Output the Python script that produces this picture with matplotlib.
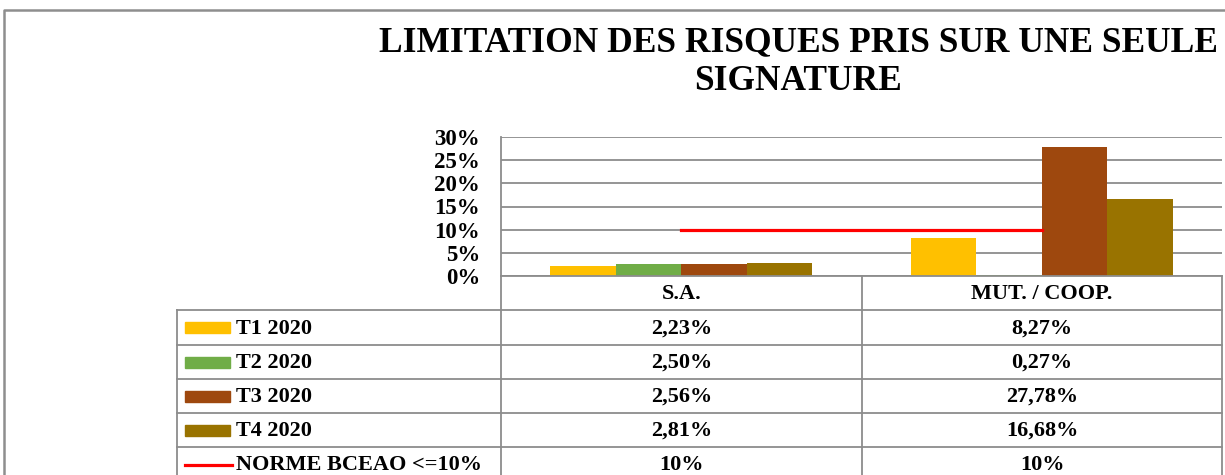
import matplotlib
matplotlib.use("Agg")
import matplotlib.pyplot as plt
import numpy as np
from matplotlib.lines import Line2D
from matplotlib.patches import Rectangle

# Données du graphique
categories = ["S.A.", "MUT. / COOP."]
series_labels = ["T1 2020", "T2 2020", "T3 2020", "T4 2020"]
t1 = [2.23, 8.27]
t2 = [2.50, 0.27]
t3 = [2.56, 27.78]
t4 = [2.81, 16.68]
norme = [10, 10]
norme_label = "NORME BCEAO <=10%"
yticks = [0, 5, 10, 15, 20, 25, 30]
title = "LIMITATION DES RISQUES PRIS SUR UNE SEULE\nSIGNATURE"

series = [t1, t2, t3, t4]
colors = ["#FFC000", "#70AD47", "#9E480E", "#997300"]
red = "#FF0000"
grid_col = "#8C8C8C"

plt.rcParams['font.family'] = ['Liberation Serif', 'DejaVu Serif']
plt.rcParams['font.weight'] = 'bold'

W, H = 1225, 475
fig = plt.figure(figsize=(W / 100, H / 100), dpi=100)

# zone du graphique (en pixels)
x0, x1 = 501, 1222
y_top, y_bot = 137, 276
ax = fig.add_axes([x0 / W, (H - y_bot) / H, (x1 - x0) / W, (y_bot - y_top) / H])

x = np.arange(len(categories))
bw = 65.5 / ((x1 - x0) / len(categories))
for i, (vals, col) in enumerate(zip(series, colors)):
    ax.bar(x + (i - 1.5) * bw, vals, width=bw, color=col, zorder=3)
ax.plot(x, norme, color=red, lw=2.3, zorder=4)

ax.set_xlim(-0.5, len(categories) - 0.5)
ax.set_ylim(0, 30)
ax.set_yticks(yticks)
ax.set_yticklabels([f"{v}%" for v in yticks], fontsize=16.5, fontweight='bold')
ax.tick_params(axis='y', length=0, pad=15)
ax.set_xticks([])
ax.grid(axis='y', color=grid_col, lw=1.3, zorder=0)
for s in ["top", "right", "bottom"]:
    ax.spines[s].set_visible(False)
ax.spines["left"].set_color(grid_col)
ax.spines["left"].set_linewidth(1.3)

# calque en pixels pour le tableau, le cadre et le titre
ov = fig.add_axes([0, 0, 1, 1], zorder=5)
ov.set_xlim(0, W)
ov.set_ylim(H, 0)
ov.axis("off")
ov.patch.set_visible(False)

# cadre extérieur
ov.add_line(Line2D([4, 4, W], [H, 10, 10], color="#8E8E8E", lw=1.8))

ov.text(798, 62, title, ha="center", va="center", fontsize=25.5,
        fontweight="bold", linespacing=1.2)

# tableau de données
cols = [177, x0, 862, x1]
rows = [y_bot, 310, 345, 379, 413, 447, 482]
lc = "#8C8C8C"
# lignes horizontales
ov.add_line(Line2D([x0, x1], [rows[0], rows[0]], color=lc, lw=1.3))
for r in rows[1:]:
    ov.add_line(Line2D([cols[0], x1], [r, r], color=lc, lw=1.3))
# lignes verticales
ov.add_line(Line2D([cols[0], cols[0]], [rows[1], H], color=lc, lw=1.3))
for c in cols[1:]:
    ov.add_line(Line2D([c, c], [rows[0], H], color=lc, lw=1.3))

cx = [(cols[1] + cols[2]) / 2, (cols[2] + cols[3]) / 2]
for j, cat in enumerate(categories):
    ov.text(cx[j], (rows[0] + rows[1]) / 2 + 1, cat, ha="center", va="center",
            fontsize=16, fontweight="bold")

labels = series_labels + [norme_label]
for i, lab in enumerate(labels):
    ym = (rows[i + 1] + rows[i + 2]) / 2
    if i < len(series):
        ov.add_patch(Rectangle((185, ym - 5.5), 45, 11, color=colors[i]))
        vals = [f"{v:.2f}%".replace(".", ",") for v in series[i]]
    else:
        ov.add_line(Line2D([185, 232], [ym, ym], color=red, lw=2.3))
        vals = [f"{v:.0f}%" for v in norme]
    ov.text(236, ym + 1, lab, ha="left", va="center", fontsize=16, fontweight="bold")
    for j in range(len(categories)):
        ov.text(cx[j], ym + 1, vals[j], ha="center", va="center", fontsize=16,
                fontweight="bold")

fig.savefig("out.png", dpi=100)
